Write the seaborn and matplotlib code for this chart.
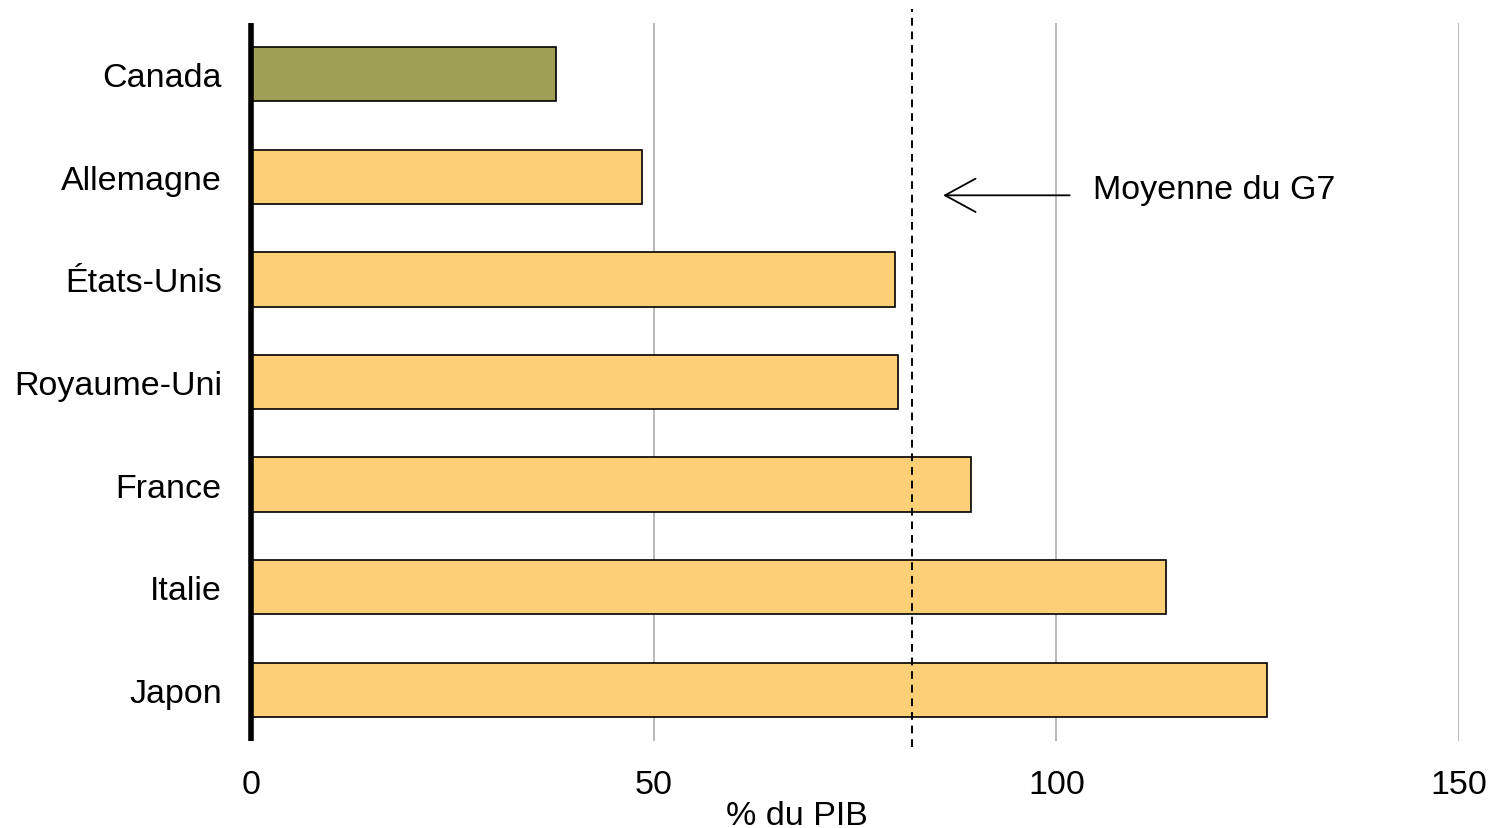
import pandas as pd
import matplotlib.pyplot as plt
import seaborn as sns

# data
pays = ["Canada", "Allemagne", "États-Unis", "Royaume-Uni", "France", "Italie", "Japon"]
valeurs = [37.9, 48.6, 80.0, 80.3, 89.4, 113.6, 126.2]
moyenne_g7 = 82.1
x_ticks = [0, 50, 100, 150]

couleurs = {p: '#FDD077' for p in pays}
couleurs["Canada"] = '#9FA055'

df = pd.DataFrame({"pays": pays, "valeur": valeurs})

sns.set_style("white")
plt.rcParams['font.family'] = ['Liberation Sans', 'DejaVu Sans']
plt.rcParams['text.color'] = 'black'
plt.rcParams['xtick.color'] = 'black'
plt.rcParams['ytick.color'] = 'black'
plt.rcParams['axes.labelcolor'] = 'black'

fig = plt.figure(figsize=(14.91, 8.29), dpi=100)
ax = fig.add_axes([251 / 1491, 1 - 742 / 829, 1208 / 1491, 718 / 829])

sns.barplot(data=df, y="pays", x="valeur", hue="pays", palette=couleurs,
            legend=False, width=0.53, edgecolor='black', linewidth=1.2,
            saturation=1, orient='h', ax=ax, zorder=3)

ax.set_xlim(0, 150)
ax.set_ylim(6.5, -0.5)
ax.set_xticks(x_ticks)
ax.xaxis.grid(True, color='#b3b3b3', linewidth=1.3, zorder=0)
ax.yaxis.grid(False)

for s in ['top', 'right', 'bottom']:
    ax.spines[s].set_visible(False)
ax.spines['left'].set_linewidth(4)
ax.spines['left'].set_color('black')
ax.spines['left'].set_capstyle('butt')
ax.spines['left'].set_zorder(5)

ax.tick_params(axis='x', length=0, pad=20, labelsize=24.5)
ax.tick_params(axis='y', length=0, pad=21, labelsize=24.5)
ax.set_ylabel('')
ax.set_xlabel('% du PIB', fontsize=24.5)
ax.xaxis.set_label_coords(0.452, -0.082)

# G7 average line (extends a little beyond the plot area)
ax.axvline(moyenne_g7, ymin=-0.009, ymax=1.02, color='black', linewidth=1.4,
           linestyle=(0, (4, 3)), clip_on=False, zorder=4)

ax.annotate('', xy=(85.6, 1.18), xytext=(102.0, 1.18),
            arrowprops=dict(arrowstyle='->,head_length=1.1,head_width=0.6',
                            mutation_scale=20, lw=1.3, color='black'))
ax.text(104.6, 1.12, 'Moyenne du G7', fontsize=24.5, va='center', ha='left')

plt.savefig("out.png", dpi=100)
